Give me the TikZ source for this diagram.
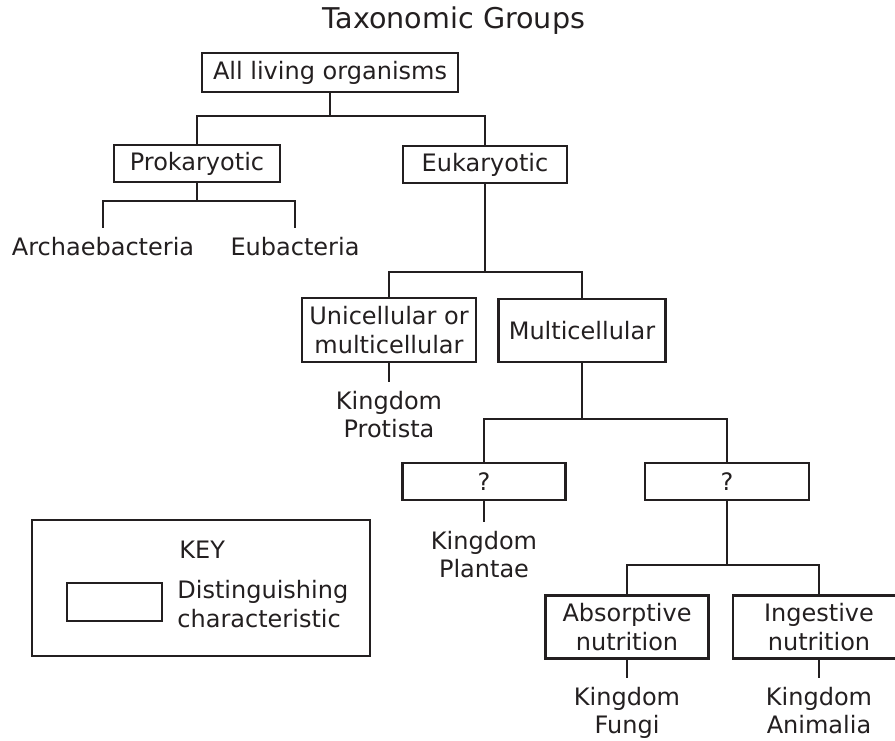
\documentclass[tikz,border=0pt]{standalone}
\usepackage{fontspec}
\setmainfont{DejaVu Sans}
\usepackage{tikz}
\usetikzlibrary{positioning}

\definecolor{ink}{RGB}{35,31,32}

\tikzset{
  link/.style={draw=ink, line width=1.3pt},
  trait/.style={draw=ink, line width=1.3pt, inner sep=0pt, align=center, text=ink,
    font=\fontsize{12}{14.5}\selectfont},
  taxon/.style={anchor=north, inner xsep=0pt, inner ysep=4.4pt, align=center, text=ink,
    font=\fontsize{12}{14}\selectfont},
}

\begin{document}
\begin{tikzpicture}[x=0.5pt, y=-0.5pt]
\useasboundingbox (0,0) rectangle (895,740);

\node [anchor=base, text=ink, font=\fontsize{14.3}{17}\selectfont] (title) at (454,28) {Taxonomic Groups};

% distinguishing characteristics
\node [trait, minimum width=128pt, minimum height=19.5pt] (all) at (330,72.5) {All living organisms};
\node [trait, minimum width=83pt, minimum height=18.5pt] (pro) at (197,163.5) {Prokaryotic};
\node [trait, minimum width=82pt, minimum height=18.5pt] (euk) at (485,164.5) {Eukaryotic};
\node [trait, minimum width=87pt, minimum height=32pt] (uni) at (389,330) {Unicellular or\\multicellular};
\node [trait, minimum width=83.5pt, minimum height=31.5pt] (mul) at (582,330.5) {Multicellular};
\node [trait, minimum width=81.5pt, minimum height=18.5pt] (qa) at (484,481.5) {?};
\node [trait, minimum width=82pt, minimum height=18.5pt] (qb) at (727,481.5) {?};
\node [trait, minimum width=81.5pt, minimum height=31.5pt] (abs) at (627,627) {Absorptive\\nutrition};
\node [trait, minimum width=86pt, minimum height=31.5pt] (ing) at (819,627) {Ingestive\\nutrition};

% groups
\node [taxon] (arch) at (103,228) {Archaebacteria};
\node [taxon] (eub) at (295,228) {Eubacteria};
\node [taxon] (protista) at (389,382) {Kingdom\\Protista};
\node [taxon] (plantae) at (484,522) {Kingdom\\Plantae};
\node [taxon] (fungi) at (627,678) {Kingdom\\Fungi};
\node [taxon] (animalia) at (819,678) {Kingdom\\Animalia};

% branch points
\coordinate (j1) at (330,116);
\coordinate (j2) at (197,201);
\coordinate (j3) at (485,272);
\coordinate (j4) at (582,419);
\coordinate (j5) at (727,565);

\draw [link] (all) -- (j1);
\draw [link] (j1) -| (pro);
\draw [link] (j1) -| (euk);

\draw [link] (pro) -- (j2);
\draw [link] (j2) -| (arch);
\draw [link] (j2) -| (eub);

\draw [link] (euk) -- (j3);
\draw [link] (j3) -| (uni);
\draw [link] (j3) -| (mul);
\draw [link] (uni) -- (protista);

\draw [link] (mul) -- (j4);
\draw [link] (j4) -| (qa);
\draw [link] (j4) -| (qb);
\draw [link] (qa) -- (plantae);

\draw [link] (qb) -- (j5);
\draw [link] (j5) -| (abs);
\draw [link] (j5) -| (ing);
\draw [link] (abs) -- (fungi);
\draw [link] (ing) -- (animalia);

% key
\node [draw=ink, line width=1.3pt, minimum width=169pt, minimum height=68pt] (key) at (201,588) {};
\node [anchor=base west, inner sep=0pt, text=ink, font=\fontsize{12}{14}\selectfont] (keytitle) at (179,558) {KEY};
\node [draw=ink, line width=1.3pt, minimum width=47.5pt, minimum height=19pt] (swatch) at (114.5,602) {};
\node [anchor=north west, inner sep=0pt, align=left, text=ink, font=\fontsize{12}{14.5}\selectfont] (keytext) at (177,580) {Distinguishing\\characteristic};
\end{tikzpicture}
\end{document}
